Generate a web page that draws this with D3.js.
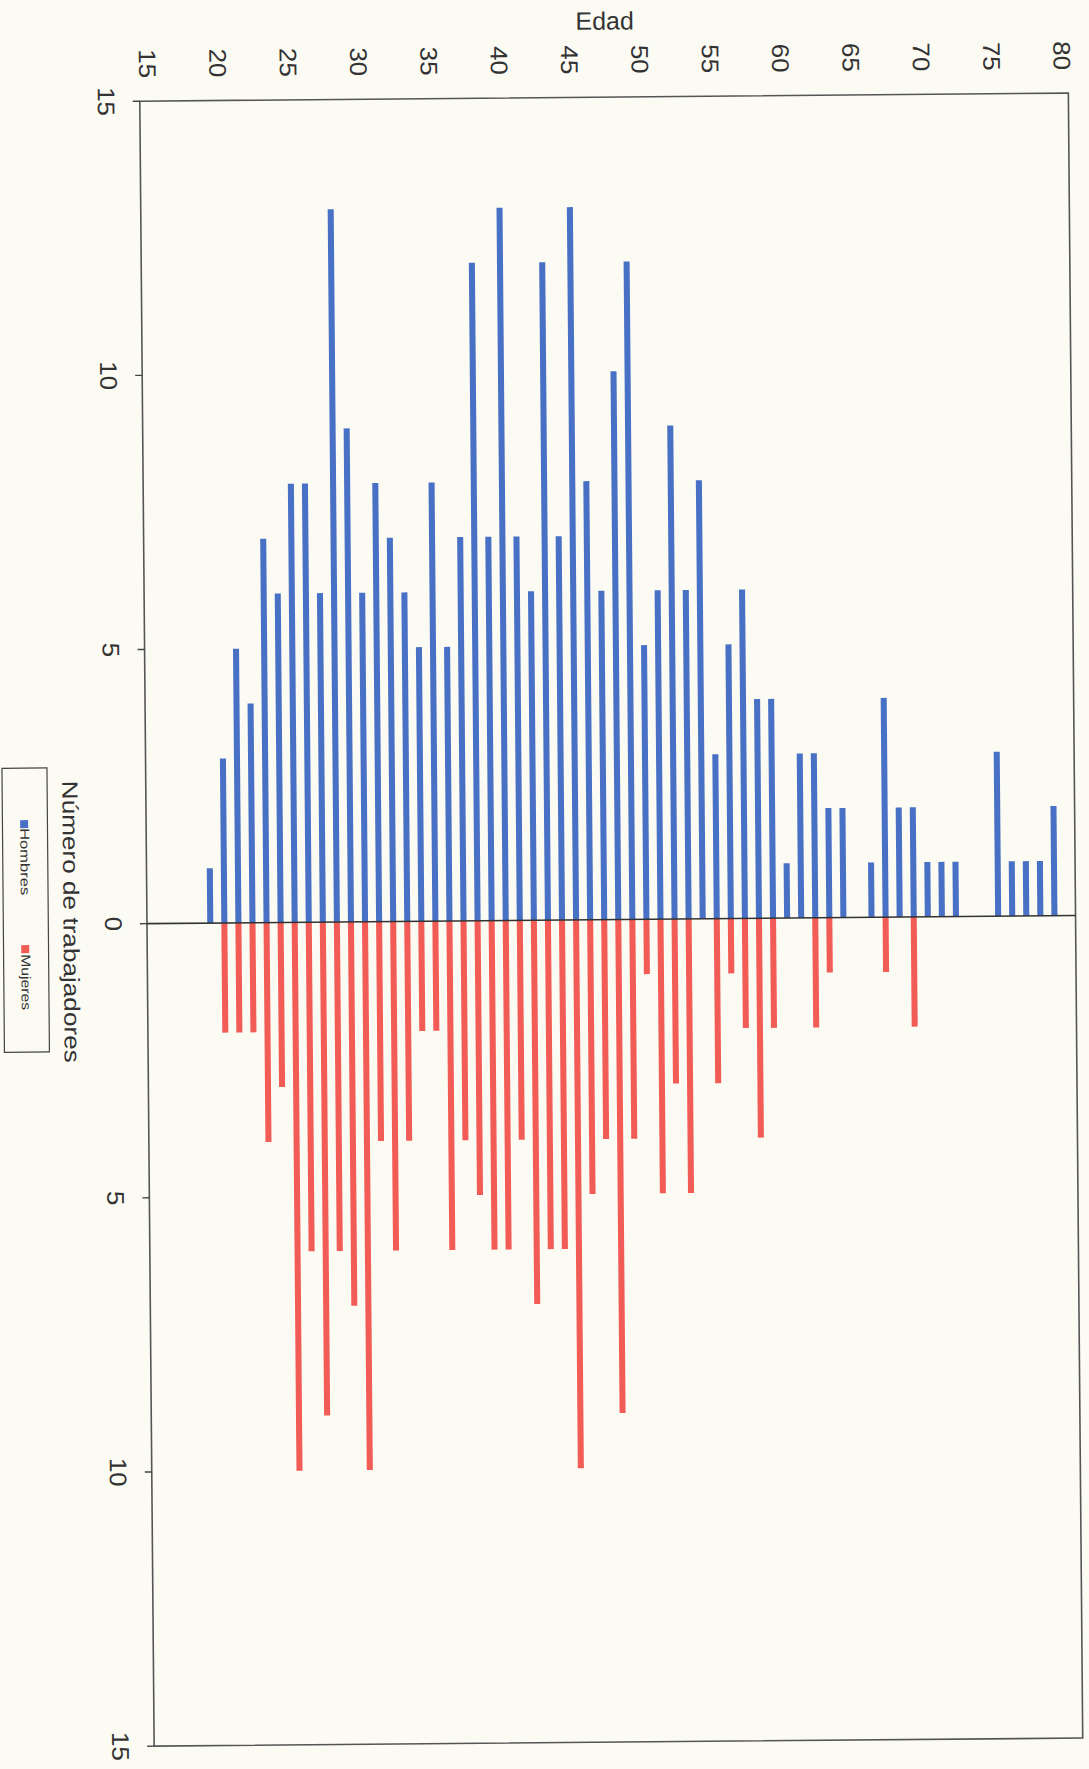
<!DOCTYPE html>
<html>
<head>
<meta charset="utf-8">
<script src="https://cdn.jsdelivr.net/npm/d3@7/dist/d3.min.js"></script>
<style>
  html, body { margin: 0; padding: 0; background: #fcfbf3; }
  svg { display: block; }
  text { font-family: "Liberation Sans", Arial, Helvetica, sans-serif; fill: #333; }
</style>
</head>
<body>
<svg id="chart" width="1089" height="1769"></svg>
<script>
// ---- data ----
const categories = d3.range(15, 81);                 // age categories on the axis 15..80
const ages = [19,20,21,22,23,24,25,26,27,28,29,30,31,32,33,34,35,36,37,38,39,40,41,42,43,44,45,46,47,48,49,50,51,52,53,54,55,56,57,58,59,60,61,62,63,64,65,66,67,68,69,70,71,72,73,74,75,76,77,78,79];
const hombres = [1,3,5,4,7,6,8,8,6,13,9,6,8,7,6,5,8,5,7,12,7,13,7,6,12,7,13,8,6,10,12,5,6,9,6,8,3,5,6,4,4,1,3,3,2,2,0,1,4,2,2,1,1,1,0,0,3,1,1,1,2];
const mujeres = [0,2,2,2,4,3,10,6,9,6,7,10,4,6,4,2,2,6,4,5,6,6,4,7,6,6,10,5,4,9,4,1,5,3,5,0,3,1,2,4,2,0,0,2,1,0,0,0,1,0,2,0,0,0,0,0,0,0,0,0,0];
const ageTicks = [15,20,25,30,35,40,45,50,55,60,65,70,75,80];
const valueTicks = [15,10,5,0,-5,-10,-15];
const seriesNames = ["Hombres", "Mujeres"];
const seriesColors = ["#4870c4", "#f25c56"];

// ---- layout ----
const L = 146.95, R = 1075.55, T = 97.1, B = 1742.1;
const cx = (L + R) / 2, cy = (T + B) / 2;

const svg = d3.select("#chart");
const g = svg.append("g").attr("transform", `rotate(-0.5, ${cx}, ${cy})`);

const x = d3.scaleBand().domain(categories).range([L, R]).padding(0);
const y = d3.scaleLinear().domain([15, -15]).range([T, B]);
const bw = x.bandwidth();
const barW = bw * 0.43;

// bars: men up
g.append("g").selectAll("rect").data(ages.map((a, i) => ({a, v: hombres[i]})).filter(d => d.v > 0))
  .join("rect")
  .attr("x", d => x(d.a) + (bw - barW) / 2)
  .attr("y", d => y(d.v))
  .attr("width", barW)
  .attr("height", d => y(0) - y(d.v))
  .attr("fill", seriesColors[0]);

// bars: women down
g.append("g").selectAll("rect").data(ages.map((a, i) => ({a, v: mujeres[i]})).filter(d => d.v > 0))
  .join("rect")
  .attr("x", d => x(d.a) + (bw - barW) / 2)
  .attr("y", y(0))
  .attr("width", barW)
  .attr("height", d => y(-d.v) - y(0))
  .attr("fill", seriesColors[1]);

// frame
g.append("rect")
  .attr("x", L).attr("y", T).attr("width", R - L).attr("height", B - T)
  .attr("fill", "none").attr("stroke", "#555").attr("stroke-width", 1.6);

// zero line (category axis)
g.append("line")
  .attr("x1", L).attr("x2", R).attr("y1", y(0)).attr("y2", y(0))
  .attr("stroke", "#333").attr("stroke-width", 1.6);

// value axis ticks + labels (rotated)
const vt = g.append("g");
vt.selectAll("line").data(valueTicks).join("line")
  .attr("x1", L - 7).attr("x2", L)
  .attr("y1", d => y(d)).attr("y2", d => y(d))
  .attr("stroke", "#444").attr("stroke-width", 1.4);
vt.selectAll("text").data(valueTicks).join("text")
  .attr("transform", d => `translate(105, ${y(d)}) rotate(90) scale(1.08,1)`)
  .attr("text-anchor", "middle")
  .attr("font-size", 24)
  .text(d => Math.abs(d));

// age axis labels (top, rotated)
g.append("g").selectAll("text").data(ageTicks).join("text")
  .attr("transform", d => `translate(${x(d) + bw / 2 - 7.5}, 74) rotate(90) scale(1.08,1)`)
  .attr("text-anchor", "end")
  .attr("font-size", 24)
  .text(d => d);

// axis titles
g.append("text")
  .attr("x", 612.5).attr("y", 29.5)
  .attr("text-anchor", "middle")
  .attr("font-size", 25)
  .text("Edad");

g.append("text")
  .attr("transform", `translate(63.5, 917) rotate(90)`)
  .attr("text-anchor", "middle")
  .attr("font-size", 22)
  .attr("textLength", 282)
  .attr("lengthAdjust", "spacingAndGlyphs")
  .text("Número de trabajadores");

// legend
const lg = g.append("g");
lg.append("rect")
  .attr("x", 3.3).attr("y", 763).attr("width", 45).attr("height", 284)
  .attr("fill", "none").attr("stroke", "#444").attr("stroke-width", 1.2);
const legendItems = [
  {name: seriesNames[0], color: seriesColors[0], sy: 815, ty: 823, len: 67},
  {name: seriesNames[1], color: seriesColors[1], sy: 940, ty: 949, len: 56}
];
legendItems.forEach(it => {
  lg.append("rect").attr("x", 21).attr("y", it.sy).attr("width", 8).attr("height", 8).attr("fill", it.color);
  lg.append("text")
    .attr("transform", `translate(21, ${it.ty}) rotate(90)`)
    .attr("text-anchor", "start")
    .attr("font-size", 13)
    .attr("textLength", it.len)
    .attr("lengthAdjust", "spacingAndGlyphs")
    .text(it.name);
});
</script>
</body>
</html>
